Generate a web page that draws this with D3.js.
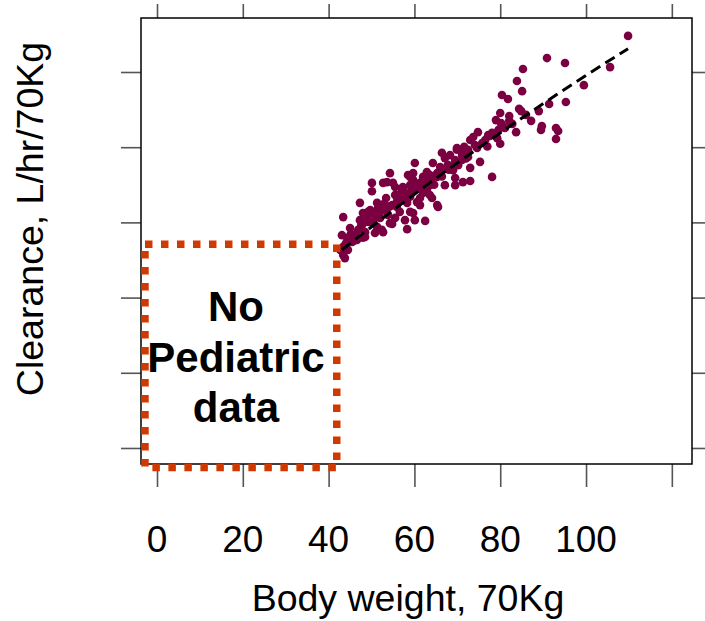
<!DOCTYPE html>
<html>
<head>
<meta charset="utf-8">
<script src="https://cdn.jsdelivr.net/npm/d3@7"></script>
<style>
  body { margin: 0; background: #fff; }
  text { font-family: "Liberation Sans", Arial, sans-serif; }
</style>
</head>
<body>
<div id="graph"></div>
<script>
/* clearance vs body weight, lattice-like panel */
const weight = [
  109.8, 90.9, 95.1, 85.3, 83.9, 85.1, 80.4, 81.8, 105.6, 99.5, 95.3, 91.4, 89.0, 84.9, 86.0, 80.0, 82.1, 79.0, 82.1, 80.2,
  83.7, 89.7, 89.5, 93.0, 93.5, 93.0, 79.3, 80.0, 77.6, 80.4, 77.2, 74.8, 73.7, 73.0, 75.8, 71.6, 69.9, 66.4, 69.9, 71.3,
  72.5, 71.1, 69.5, 75.3, 64.3, 66.0, 67.8, 73.0, 69.0, 62.9, 65.3, 78.1, 71.3, 73.0, 69.5, 62.0, 63.2, 61.8, 62.9, 62.0,
  63.6, 60.1, 63.6, 61.3, 59.7, 58.5, 65.5, 54.3, 52.7, 55.0, 50.1, 50.1, 59.0, 59.7, 63.6, 65.3, 60.6, 57.3, 62.9, 55.9,
  59.0, 61.3, 65.3, 47.3, 51.3, 52.7, 55.9, 58.3, 60.6, 56.6, 59.7, 50.1, 53.8, 48.0, 43.4, 52.0, 57.8, 60.1, 62.5, 49.7,
  54.3, 47.8, 45.0, 51.3, 52.7, 58.3, 48.5, 46.2, 43.1, 44.3, 48.0, 45.5, 43.4, 42.7, 44.5, 43.8, 43.4, 46.6, 49.7, 52.0,
  55.5, 57.3, 53.6, 54.8, 52.4, 45.5, 46.9, 49.2, 50.8, 53.1, 54.8, 56.2, 57.8, 59.4, 60.8, 62.5, 64.1, 66.0, 67.6, 69.5,
  71.1, 72.5, 74.1, 76.5, 78.1, 81.1, 82.8, 47.3, 49.2, 51.5, 53.4, 55.5, 57.1, 59.0, 67.1, 68.3, 48.5, 50.8, 55.5, 59.0,
  61.3, 64.1, 67.1, 69.5, 44.0, 45.2, 46.0, 47.6, 49.0, 50.4, 51.8, 53.0, 54.2, 56.0, 57.4, 58.8, 60.2, 61.6, 63.0, 64.6,
  66.4, 68.0, 70.2, 72.0, 74.6, 77.0, 79.6, 84.4, 87.2
];
const clearance = [
  10.96, 10.37, 10.24, 10.08, 9.76, 9.49, 9.39, 9.28, 10.13, 9.65, 9.20, 9.15, 8.96, 8.96, 8.86, 8.91, 8.83, 8.72, 8.70, 8.64,
  8.40, 8.56, 8.46, 8.51, 8.43, 8.22, 8.24, 8.09, 8.30, 8.59, 8.32, 8.40, 8.27, 8.19, 8.11, 8.01, 7.98, 7.85, 7.93, 7.85,
  7.74, 7.66, 7.58, 7.61, 7.58, 7.47, 7.53, 7.45, 7.39, 7.34, 7.31, 7.21, 7.07, 7.10, 6.99, 7.21, 7.13, 6.99, 6.91, 6.78,
  6.73, 7.58, 6.99, 7.05, 7.13, 7.26, 6.41, 7.31, 7.05, 7.05, 7.05, 6.83, 7.21, 7.31, 7.26, 7.21, 6.94, 6.91, 6.86, 6.73,
  6.68, 6.65, 6.46, 6.52, 6.52, 6.41, 6.41, 6.52, 6.54, 6.28, 6.25, 6.25, 6.20, 6.25, 6.14, 6.12, 6.06, 6.06, 6.04, 6.01,
  5.98, 5.93, 5.85, 5.88, 5.74, 5.82, 5.74, 5.66, 5.66, 5.59, 5.59, 5.48, 5.35, 5.27, 5.27, 5.05, 5.13, 5.53, 6.33, 6.28,
  6.94, 6.94, 7.07, 5.96, 5.80, 5.64, 5.80, 6.01, 6.20, 6.33, 6.46, 6.60, 6.70, 6.81, 6.91, 7.05, 7.18, 7.34, 7.45, 7.66,
  7.79, 7.93, 8.06, 8.19, 8.38, 8.51, 8.62, 6.06, 6.28, 6.38, 6.65, 6.73, 6.86, 6.99, 7.71, 7.79, 5.61, 5.72, 6.12, 6.28,
  6.46, 6.65, 6.99, 7.18, 5.44, 5.70, 5.52, 5.92, 6.10, 6.02, 6.36, 6.50, 6.42, 6.58, 6.62, 6.78, 6.90, 6.88, 7.02, 7.00,
  7.22, 7.40, 7.52, 7.70, 7.98, 8.02, 8.46, 9.02, 8.70
];

// fitted typical curve (dashed)
const fitWeight = [43.1, 60, 80, 100, 109.8];
const fitClearance = [5.27, 6.75, 8.38, 9.91, 10.62];

// region with no paediatric data: [xmin, xmax, ymin, ymax]
const noDataBox = [-2.8, 41.9, -0.52, 5.42];
const noDataText = ["No", "Pediatric", "data"];

const xTicks = [0, 20, 40, 60, 80, 100, 120];
const xTickLabels = ["0", "20", "40", "60", "80", "100", ""];
const yTicks = [0, 2, 4, 6, 8, 10];

const xTitle = "Body weight, 70Kg";
const yTitle = "Clearance, L/hr/70Kg";

window.addEventListener("DOMContentLoaded", main)

function main() {
    const W = 705, H = 621;
    const L = 141, R = 692, T = 18, B = 464;

    const svg = d3.select("#graph").append("svg").attr("width", W).attr("height", H)

    const x = d3.scaleLinear().domain([-3.73, 124.7]).range([L, R]);
    const y = d3.scaleLinear().domain([-0.426, 11.436]).range([B, T]);

    /* axes, ticks outside on all four sides */
    const tickCol = "#555";
    svg.append("g").attr("transform", "translate(0," + B + ")")
        .call(d3.axisBottom(x).tickValues(xTicks).tickSize(23).tickFormat(""))
    svg.append("g").attr("transform", "translate(0," + T + ")")
        .call(d3.axisTop(x).tickValues(xTicks).tickSize(14).tickFormat(""))
    svg.append("g").attr("transform", "translate(" + L + ",0)")
        .call(d3.axisLeft(y).tickValues(yTicks).tickSize(20).tickFormat(""))
    svg.append("g").attr("transform", "translate(" + R + ",0)")
        .call(d3.axisRight(y).tickValues(yTicks).tickSize(16).tickFormat(""))
    svg.selectAll(".domain").remove();
    svg.selectAll(".tick line").attr("stroke", tickCol).attr("stroke-width", 1.6);

    svg.append("rect")
        .attr("x", L).attr("y", T)
        .attr("width", R - L).attr("height", B - T)
        .attr("fill", "none").attr("stroke", "#000").attr("stroke-width", 1.5);

    svg.selectAll(".xlab")
        .data(xTicks)
        .enter()
        .append("text")
        .attr("class", "xlab")
        .attr("x", d => x(d))
        .attr("y", 552)
        .attr("text-anchor", "middle")
        .attr("font-size", "37px")
        .text((d, i) => xTickLabels[i]);

    svg.append("text")
        .attr("x", 408).attr("y", 611)
        .attr("text-anchor", "middle")
        .attr("font-size", "37.5px")
        .text(xTitle);

    svg.append("text")
        .attr("transform", "translate(43,219) rotate(-90)")
        .attr("text-anchor", "middle")
        .attr("font-size", "37.5px")
        .text(yTitle);

    /* points */
    svg.selectAll("circle")
        .data(weight)
        .enter()
        .append("circle")
        .attr("cx", d => x(d))
        .attr("cy", (d, i) => y(clearance[i]))
        .attr("r", 4.3)
        .attr("fill", "#7b0041");

    const line = d3.line()
        .x(d => x(d[0]))
        .y(d => y(d[1]))
        .curve(d3.curveMonotoneX);
    svg.append("path")
        .datum(fitWeight.map((w, i) => [w, fitClearance[i]]))
        .attr("d", line)
        .attr("fill", "none")
        .attr("stroke", "#000")
        .attr("stroke-width", 3)
        .attr("stroke-dasharray", "11,6");

    /* dotted box marking missing pediatric range */
    svg.append("rect")
        .attr("x", x(noDataBox[0]))
        .attr("y", y(noDataBox[3]))
        .attr("width", x(noDataBox[1]) - x(noDataBox[0]))
        .attr("height", y(noDataBox[2]) - y(noDataBox[3]))
        .attr("fill", "none")
        .attr("stroke", "#d03a00")
        .attr("stroke-width", 7.5)
        .attr("stroke-dasharray", "7.5,8.5");

    svg.selectAll(".nd")
        .data(noDataText)
        .enter()
        .append("text")
        .attr("class", "nd")
        .attr("x", 236)
        .attr("y", (d, i) => 321 + i * 50.5)
        .attr("text-anchor", "middle")
        .attr("font-size", "42px")
        .attr("font-weight", "bold")
        .text(d => d);
}
</script>
</body>
</html>
